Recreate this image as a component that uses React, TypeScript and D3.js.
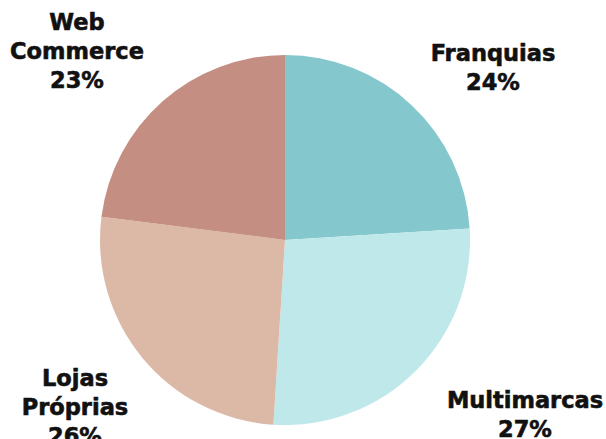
import React from "react";
import * as d3 from "d3";

const categories = ["Franquias", "Multimarcas", "Lojas Próprias", "Web Commerce"];
const values = [24, 27, 26, 23];
const colors = ["#84c7cc", "#bfe8ea", "#dcb8a7", "#c48f82"];
// label lines as shown in the picture
const labelLines = [
  ["Franquias", "24%"],
  ["Multimarcas", "27%"],
  ["Lojas", "Próprias", "26%"],
  ["Web", "Commerce", "23%"],
];
const labelPos = [
  [493, 61],
  [525, 408],
  [75, 386],
  [77, 30],
];

export default function App() {
  const width = 606;
  const height = 439;
  const cx = 285;
  const cy = 240;
  const radius = 185;

  const pie = d3.pie<number>().sort(null).value((d) => d);
  const arcs = pie(values);
  const arc = d3.arc<d3.PieArcDatum<number>>().innerRadius(0).outerRadius(radius);

  return (
    <svg
      width={width}
      height={height}
      style={{ position: "absolute", left: 0, top: 0, background: "#fff" }}
    >
      <g transform={`translate(${cx},${cy})`}>
        {arcs.map((a, i) => (
          <path key={categories[i]} d={arc(a) || ""} fill={colors[i]} />
        ))}
      </g>
      {labelLines.map((lines, i) => (
        <text
          key={categories[i]}
          x={labelPos[i][0]}
          y={labelPos[i][1]}
          textAnchor="middle"
          fontFamily="'DejaVu Sans', sans-serif"
          fontWeight={700}
          fontSize={22.5}
          fill="#111"
          stroke="#111"
          strokeWidth={0.6}
        >
          {lines.map((l, j) => (
            <tspan key={j} x={labelPos[i][0]} dy={j === 0 ? 0 : 29}>
              {l}
            </tspan>
          ))}
        </text>
      ))}
    </svg>
  );
}
